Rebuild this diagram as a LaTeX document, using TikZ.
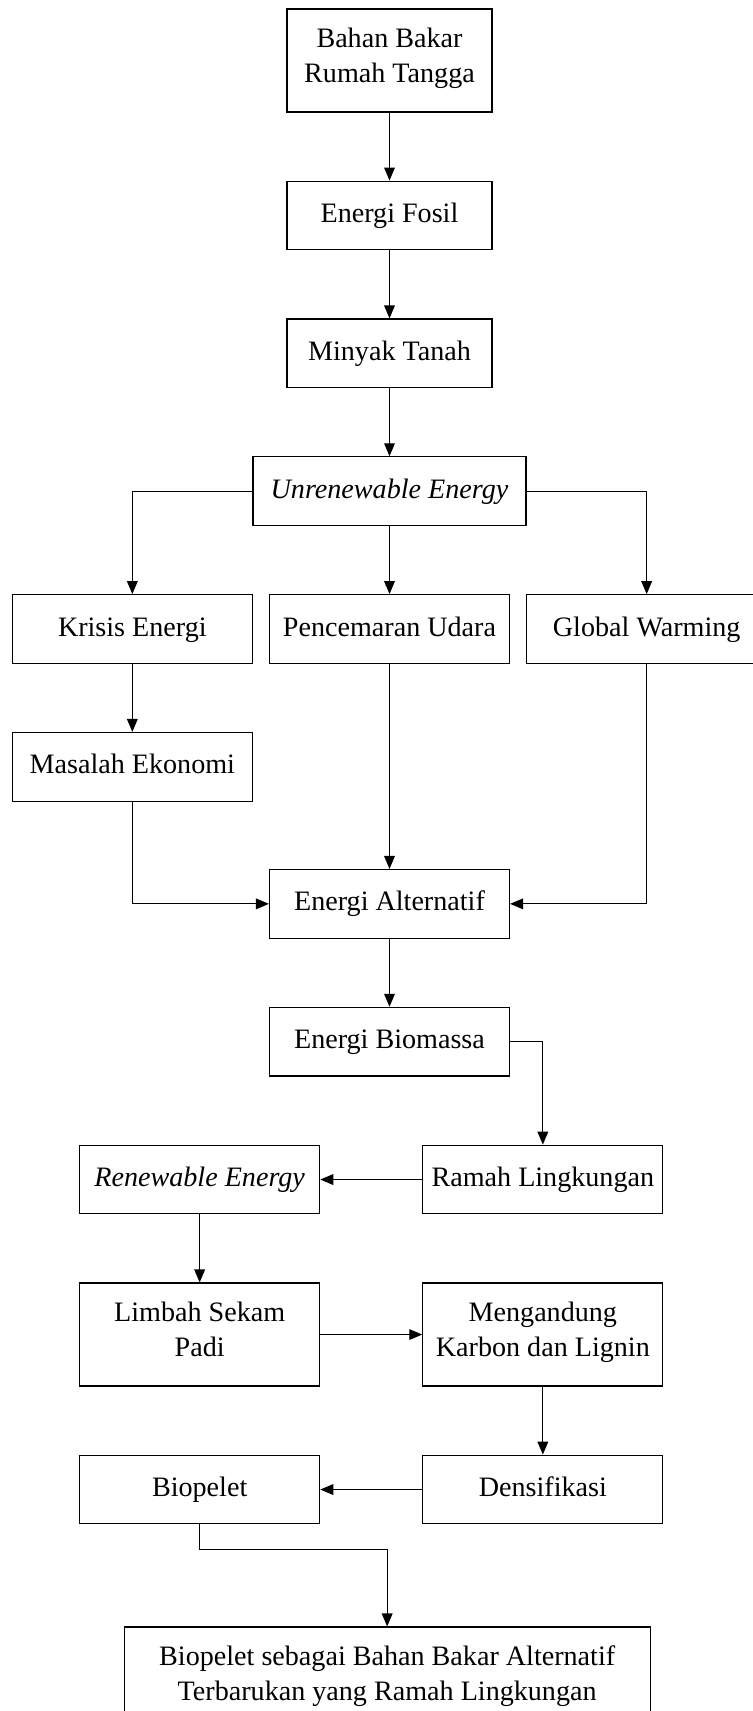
\documentclass[tikz,border=0pt]{standalone}
\usepackage{fontspec}
\setmainfont{Liberation Serif}
\usetikzlibrary{arrows.meta,positioning}

\begin{document}
\begin{tikzpicture}[
      node distance=1.02cm,
      box/.style={draw,line width=.5pt,minimum width=3.6cm,minimum height=1.03cm,
        align=center,inner sep=.05cm,font=\fontsize{12}{14.9}\selectfont,
        execute at begin node=\strut,execute at end node=\strut},
      tallbox/.style={box,minimum height=1.545cm},
      arrow/.style={-{Triangle[length=.195cm,width=.16cm]},line width=.5pt}
    ]
      \useasboundingbox (0,0) rectangle (11.295,-25.665);
      \clip (0,0) rectangle (11.295,-25.665);
      \node[tallbox,minimum width=3.075cm] (bahan) at (5.8425,-.9075) {Bahan Bakar\\Rumah Tangga};
      \node[box,minimum width=3.075cm,below=of bahan] (fosil) {Energi Fosil};
      \node[box,minimum width=3.075cm,below=of fosil] (minyak) {Minyak Tanah};
      \node[box,minimum width=4.095cm,below=of minyak] (unrenewable) {\textit{Unrenewable Energy}};
      \node[box,below=of unrenewable] (pencemaran) {Pencemaran Udara};
      \node[box,left=.24cm of pencemaran] (krisis) {Krisis Energi};
      \node[box,right=.24cm of pencemaran] (global) {Global Warming};
      \node[box,below=of krisis] (ekonomi) {Masalah Ekonomi};
      \node[box,below=3.075cm of pencemaran] (alternatif) {Energi Alternatif};
      \node[box,below=of alternatif] (biomassa) {Energi Biomassa};
      \node[box,below=of biomassa,xshift=2.30cm] (ramah) {Ramah Lingkungan};
      \node[box,left=1.53cm of ramah] (renewable) {\textit{Renewable Energy}};
      \node[tallbox,below=of renewable] (sekam) {Limbah Sekam\\Padi};
      \node[tallbox,right=1.53cm of sekam] (karbon) {Mengandung\\Karbon dan Lignin};
      \node[box,below=of karbon] (densifikasi) {Densifikasi};
      \node[box,left=1.53cm of densifikasi] (biopelet) {Biopelet};
      \node[tallbox,minimum width=7.89cm,below=1.53cm of biopelet,xshift=2.8125cm] (hasil)
        {Biopelet sebagai Bahan Bakar Alternatif\\Terbarukan yang Ramah Lingkungan};
      \draw[arrow] (bahan)--(fosil);
      \draw[arrow] (fosil)--(minyak);
      \draw[arrow] (minyak)--(unrenewable);
      \draw[arrow] (unrenewable.west) -| (krisis.north);
      \draw[arrow] (unrenewable)--(pencemaran);
      \draw[arrow] (unrenewable.east) -| (global.north);
      \draw[arrow] (krisis)--(ekonomi);
      \draw[arrow] (ekonomi.south) |- (alternatif.west);
      \draw[arrow] (pencemaran)--(alternatif);
      \draw[arrow] (global.south) |- (alternatif.east);
      \draw[arrow] (alternatif)--(biomassa);
      \draw[arrow] (biomassa.east) -| (ramah.north);
      \draw[arrow] (ramah)--(renewable);
      \draw[arrow] (renewable)--(sekam);
      \draw[arrow] (sekam)--(karbon);
      \draw[arrow] (karbon)--(densifikasi);
      \draw[arrow] (densifikasi)--(biopelet);
      \draw[arrow] (biopelet.south) -- ++(0,-.375cm) -| (hasil.north);
    \end{tikzpicture}
\end{document}
